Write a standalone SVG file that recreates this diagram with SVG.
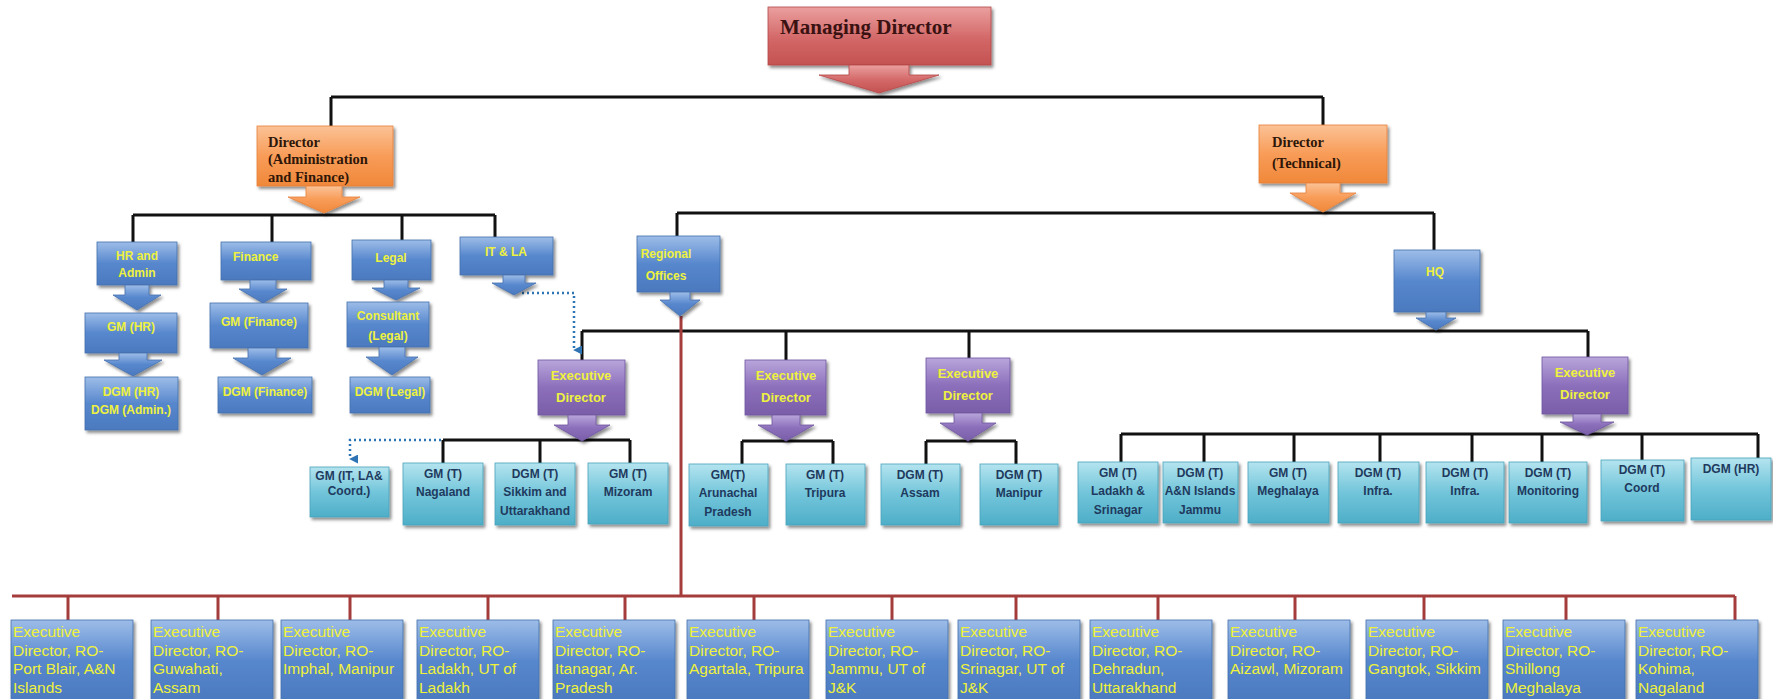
<svg xmlns="http://www.w3.org/2000/svg" width="1773" height="699" viewBox="0 0 1773 699">
<defs>
<linearGradient id="gBlue" x1="0" y1="0" x2="0" y2="1"><stop offset="0" stop-color="#9dbde8"/><stop offset="0.5" stop-color="#5787cd"/><stop offset="1" stop-color="#4b79bf"/></linearGradient>
<linearGradient id="gCyan" x1="0" y1="0" x2="0" y2="1"><stop offset="0" stop-color="#b4e4ef"/><stop offset="0.5" stop-color="#72c5da"/><stop offset="1" stop-color="#4eaec8"/></linearGradient>
<linearGradient id="gPurple" x1="0" y1="0" x2="0" y2="1"><stop offset="0" stop-color="#b9a6db"/><stop offset="0.5" stop-color="#8c6fbb"/><stop offset="1" stop-color="#7a5ea8"/></linearGradient>
<linearGradient id="gOrange" x1="0" y1="0" x2="0" y2="1"><stop offset="0" stop-color="#fbc296"/><stop offset="0.5" stop-color="#f89c58"/><stop offset="1" stop-color="#f0883a"/></linearGradient>
<linearGradient id="gRed" x1="0" y1="0" x2="0" y2="1"><stop offset="0" stop-color="#eb9f9f"/><stop offset="0.55" stop-color="#d36767"/><stop offset="1" stop-color="#c45252"/></linearGradient>
<filter id="sh" x="-10%" y="-10%" width="125%" height="130%"><feDropShadow dx="2" dy="2.5" stdDeviation="1.5" flood-color="#000" flood-opacity="0.45"/></filter>
<marker id="dArr" viewBox="0 0 10 10" refX="5" refY="9" markerWidth="9" markerHeight="9" markerUnits="userSpaceOnUse" orient="auto-start-reverse"><path d="M0,0 L10,0 L5,10 Z" fill="#2e74b5"/></marker>
</defs>
<style>
.blue{fill:url(#gBlue);stroke:#4470ad;stroke-width:0.8;filter:url(#sh)}
.cyan{fill:url(#gCyan);stroke:#4aa3bb;stroke-width:0.8;filter:url(#sh)}
.purple{fill:url(#gPurple);stroke:#6e55a0;stroke-width:0.8;filter:url(#sh)}
.orange{fill:url(#gOrange);stroke:#e6803a;stroke-width:0.8;filter:url(#sh)}
.red{fill:url(#gRed);stroke:#b44848;stroke-width:0.8;filter:url(#sh)}
.ln{stroke:#111;stroke-width:3;fill:none}
.rl{stroke:#a43c3c;stroke-width:3;fill:none}
.dot{stroke:#2e75b6;stroke-width:2.5;fill:none;stroke-dasharray:2 3}
.ty{font-family:"Liberation Sans",Arial,sans-serif;font-size:12px;font-weight:bold;fill:#eef23e;text-anchor:middle}
.te{font-family:"Liberation Sans",Arial,sans-serif;font-size:13px;font-weight:bold;fill:#eef23e;text-anchor:middle}
.tn{font-family:"Liberation Sans",Arial,sans-serif;font-size:12px;font-weight:bold;fill:#1f3a5e;text-anchor:middle}
.tb{font-family:"Liberation Sans",Arial,sans-serif;font-size:15.5px;fill:#f0f23a}
.to{font-family:"Liberation Serif","Times New Roman",serif;font-size:14.5px;font-weight:bold;fill:#2e1608}
.tm{font-family:"Liberation Serif","Times New Roman",serif;font-size:21px;font-weight:bold;fill:#3a1212}
</style>

<g id="connectors">
<path class="ln" d="M331,97 H1323 M331,97 V126 M1323,97 V125"/>
<path class="ln" d="M133,215 H495 M133,215 V242 M272,215 V242 M402,215 V240 M495,215 V237"/>
<path class="ln" d="M677,213 H1434 M677,213 V236 M1434,213 V250"/>
<path class="ln" d="M582,331 H1588 M582,331 V360 M786,331 V360 M969,331 V358 M1588,331 V357"/>
<path class="ln" d="M443,440 H630 M443,440 V463 M540,440 V463 M630,440 V463"/>
<path class="ln" d="M742,441 H833 M742,441 V464 M833,441 V464"/>
<path class="ln" d="M926,441 H1016 M926,441 V464 M1016,441 V464"/>
<path class="ln" d="M1121,434 H1758 M1121,434 V462 M1204,434 V462 M1294,434 V462 M1380,434 V462 M1472,434 V462 M1542,434 V462 M1642,434 V460 M1758,434 V458"/>
<path class="rl" d="M681,316 V596 M12,596 H1735 M68,596 V620 M218,596 V620 M350,596 V620 M488,596 V620 M625,596 V620 M754,596 V620 M892,596 V620 M1016,596 V620 M1158,596 V620 M1295,596 V620 M1424,596 V620 M1566,596 V620 M1735,596 V620"/>
<path class="dot" d="M522,293 H574 V350" marker-end="url(#dArr)"/>
<path class="dot" d="M441,440 H350 V459" marker-end="url(#dArr)"/>
</g>

<g id="md">
<rect class="red" x="768" y="7" width="223" height="58"/>
<path class="red" d="M849,65 H909 V75 H939 L879,93 L819,75 H849 Z"/>
<text class="tm" x="780" y="34">Managing Director</text>
</g>

<g id="dir-admin">
<rect class="orange" x="257" y="126" width="136" height="60"/>
<path class="orange" d="M306,186 H342 V197 H360 L324,213 L288,197 H306 Z"/>
<text class="to" x="268" y="147">Director</text>
<text class="to" x="268" y="164">(Administration</text>
<text class="to" x="268" y="182">and Finance)</text>
</g>

<g id="dir-tech">
<rect class="orange" x="1259" y="125" width="128" height="58"/>
<path class="orange" d="M1306,183 H1340 V193 H1356 L1323,212 L1290,193 H1306 Z"/>
<text class="to" x="1272" y="147">Director</text>
<text class="to" x="1272" y="168">(Technical)</text>
</g>

<g id="hr-admin">
<rect class="blue" x="97" y="242" width="80" height="43"/>
<path class="blue" d="M125,285 H149 V295 H161 L137,310 L113,295 H125 Z"/>
<text class="ty" x="137" y="260">HR and</text>
<text class="ty" x="137" y="277">Admin</text>
</g>
<g id="gm-hr">
<rect class="blue" x="85" y="313" width="92" height="40"/>
<path class="blue" d="M119,353 H147 V360 H162 L133,376 L104,360 H119 Z"/>
<text class="ty" x="131" y="331">GM (HR)</text>
</g>
<g id="dgm-hr-admin">
<rect class="blue" x="85" y="377" width="93" height="53"/>
<text class="ty" x="131" y="396">DGM (HR)</text>
<text class="ty" x="131" y="414">DGM (Admin.)</text>
</g>

<g id="finance">
<rect class="blue" x="221" y="242" width="90" height="38"/>
<path class="blue" d="M250,280 H276 V289 H287 L263,303 L239,289 H250 Z"/>
<text class="ty" x="233" y="261" style="text-anchor:start">Finance</text>
</g>
<g id="gm-finance">
<rect class="blue" x="210" y="303" width="98" height="45"/>
<path class="blue" d="M248,348 H276 V358 H291 L262,375 L233,358 H248 Z"/>
<text class="ty" x="259" y="326">GM (Finance)</text>
</g>
<g id="dgm-finance">
<rect class="blue" x="218" y="377" width="94" height="36"/>
<text class="ty" x="265" y="396">DGM (Finance)</text>
</g>

<g id="legal">
<rect class="blue" x="352" y="240" width="79" height="40"/>
<path class="blue" d="M384,280 H408 V288 H420 L396,300 L372,288 H384 Z"/>
<text class="ty" x="391" y="262">Legal</text>
</g>
<g id="consultant">
<rect class="blue" x="347" y="302" width="82" height="45"/>
<path class="blue" d="M379,347 H405 V357 H418 L392,375 L366,357 H379 Z"/>
<text class="ty" x="388" y="320">Consultant</text>
<text class="ty" x="388" y="340">(Legal)</text>
</g>
<g id="dgm-legal">
<rect class="blue" x="350" y="377" width="80" height="36"/>
<text class="ty" x="390" y="396">DGM (Legal)</text>
</g>

<g id="it-la">
<rect class="blue" x="460" y="237" width="93" height="38"/>
<path class="blue" d="M503,275 H525 V283 H536 L514,295 L492,283 H503 Z"/>
<text class="ty" x="506" y="256">IT &amp; LA</text>
</g>

<g id="regional-offices">
<rect class="blue" x="637" y="236" width="83" height="56"/>
<path class="blue" d="M670,292 H690 V300 H700 L680,316 L660,300 H670 Z"/>
<text class="ty" x="666" y="258">Regional</text>
<text class="ty" x="666" y="280">Offices</text>
</g>

<g id="hq">
<rect class="blue" x="1394" y="250" width="86" height="62"/>
<path class="blue" d="M1426,312 H1446 V318 H1456 L1436,330 L1416,318 H1426 Z"/>
<text class="ty" x="1435" y="276">HQ</text>
</g>

<g id="ed1">
<rect class="purple" x="538" y="360" width="87" height="55"/>
<path class="purple" d="M568,415 H596 V425 H610 L582,441 L554,425 H568 Z"/>
<text class="te" x="581" y="380">Executive</text>
<text class="te" x="581" y="402">Director</text>
</g>
<g id="ed2">
<rect class="purple" x="745" y="360" width="81" height="55"/>
<path class="purple" d="M772,415 H800 V425 H814 L786,441 L758,425 H772 Z"/>
<text class="te" x="786" y="380">Executive</text>
<text class="te" x="786" y="402">Director</text>
</g>
<g id="ed3">
<rect class="purple" x="926" y="358" width="84" height="55"/>
<path class="purple" d="M954,413 H982 V423 H996 L968,441 L940,423 H954 Z"/>
<text class="te" x="968" y="378">Executive</text>
<text class="te" x="968" y="400">Director</text>
</g>
<g id="ed4">
<rect class="purple" x="1542" y="357" width="86" height="57"/>
<path class="purple" d="M1573,414 H1601 V422 H1614 L1587,435 L1560,422 H1573 Z"/>
<text class="te" x="1585" y="377">Executive</text>
<text class="te" x="1585" y="399">Director</text>
</g>

<g id="gm-it-la-coord"><rect class="cyan" x="310" y="467" width="79" height="50"/><text class="tn" x="349" y="480">GM (IT, LA&amp;</text><text class="tn" x="349" y="495">Coord.)</text></g>
<g id="gm-nagaland"><rect class="cyan" x="403" y="463" width="80" height="62"/><text class="tn" x="443" y="478">GM (T)</text><text class="tn" x="443" y="496">Nagaland</text></g>
<g id="dgm-sikkim"><rect class="cyan" x="495" y="463" width="80" height="62"/><text class="tn" x="535" y="478">DGM (T)</text><text class="tn" x="535" y="496">Sikkim and</text><text class="tn" x="535" y="515">Uttarakhand</text></g>
<g id="gm-mizoram"><rect class="cyan" x="588" y="463" width="80" height="61"/><text class="tn" x="628" y="478">GM (T)</text><text class="tn" x="628" y="496">Mizoram</text></g>
<g id="gm-arunachal"><rect class="cyan" x="689" y="464" width="79" height="62"/><text class="tn" x="728" y="479">GM(T)</text><text class="tn" x="728" y="497">Arunachal</text><text class="tn" x="728" y="516">Pradesh</text></g>
<g id="gm-tripura"><rect class="cyan" x="786" y="464" width="79" height="61"/><text class="tn" x="825" y="479">GM (T)</text><text class="tn" x="825" y="497">Tripura</text></g>
<g id="dgm-assam"><rect class="cyan" x="881" y="464" width="79" height="61"/><text class="tn" x="920" y="479">DGM (T)</text><text class="tn" x="920" y="497">Assam</text></g>
<g id="dgm-manipur"><rect class="cyan" x="980" y="464" width="78" height="61"/><text class="tn" x="1019" y="479">DGM (T)</text><text class="tn" x="1019" y="497">Manipur</text></g>
<g id="gm-ladakh"><rect class="cyan" x="1078" y="462" width="80" height="61"/><text class="tn" x="1118" y="477">GM (T)</text><text class="tn" x="1118" y="495">Ladakh &amp;</text><text class="tn" x="1118" y="514">Srinagar</text></g>
<g id="dgm-an-jammu"><rect class="cyan" x="1163" y="462" width="75" height="61"/><text class="tn" x="1200" y="477">DGM (T)</text><text class="tn" x="1200" y="495">A&amp;N Islands</text><text class="tn" x="1200" y="514">Jammu</text></g>
<g id="gm-meghalaya"><rect class="cyan" x="1248" y="462" width="81" height="61"/><text class="tn" x="1288" y="477">GM (T)</text><text class="tn" x="1288" y="495">Meghalaya</text></g>
<g id="dgm-infra1"><rect class="cyan" x="1338" y="462" width="81" height="61"/><text class="tn" x="1378" y="477">DGM (T)</text><text class="tn" x="1378" y="495">Infra.</text></g>
<g id="dgm-infra2"><rect class="cyan" x="1426" y="462" width="78" height="61"/><text class="tn" x="1465" y="477">DGM (T)</text><text class="tn" x="1465" y="495">Infra.</text></g>
<g id="dgm-monitoring"><rect class="cyan" x="1509" y="462" width="78" height="61"/><text class="tn" x="1548" y="477">DGM (T)</text><text class="tn" x="1548" y="495">Monitoring</text></g>
<g id="dgm-coord"><rect class="cyan" x="1601" y="460" width="83" height="61"/><text class="tn" x="1642" y="474">DGM (T)</text><text class="tn" x="1642" y="492">Coord</text></g>
<g id="dgm-hr"><rect class="cyan" x="1691" y="458" width="80" height="62"/><text class="tn" x="1731" y="473">DGM (HR)</text></g>

<g id="ro-port-blair"><rect class="blue" x="11" y="620" width="122" height="82"/><text class="tb" x="13" y="637">Executive</text><text class="tb" x="13" y="655.5">Director, RO-</text><text class="tb" x="13" y="674">Port Blair, A&amp;N</text><text class="tb" x="13" y="692.5">Islands</text></g>
<g id="ro-guwahati"><rect class="blue" x="151" y="620" width="122" height="82"/><text class="tb" x="153" y="637">Executive</text><text class="tb" x="153" y="655.5">Director, RO-</text><text class="tb" x="153" y="674">Guwahati,</text><text class="tb" x="153" y="692.5">Assam</text></g>
<g id="ro-imphal"><rect class="blue" x="281" y="620" width="122" height="82"/><text class="tb" x="283" y="637">Executive</text><text class="tb" x="283" y="655.5">Director, RO-</text><text class="tb" x="283" y="674">Imphal, Manipur</text></g>
<g id="ro-ladakh"><rect class="blue" x="417" y="620" width="122" height="82"/><text class="tb" x="419" y="637">Executive</text><text class="tb" x="419" y="655.5">Director, RO-</text><text class="tb" x="419" y="674">Ladakh, UT of</text><text class="tb" x="419" y="692.5">Ladakh</text></g>
<g id="ro-itanagar"><rect class="blue" x="553" y="620" width="122" height="82"/><text class="tb" x="555" y="637">Executive</text><text class="tb" x="555" y="655.5">Director, RO-</text><text class="tb" x="555" y="674">Itanagar, Ar.</text><text class="tb" x="555" y="692.5">Pradesh</text></g>
<g id="ro-agartala"><rect class="blue" x="687" y="620" width="122" height="82"/><text class="tb" x="689" y="637">Executive</text><text class="tb" x="689" y="655.5">Director, RO-</text><text class="tb" x="689" y="674">Agartala, Tripura</text></g>
<g id="ro-jammu"><rect class="blue" x="826" y="620" width="122" height="82"/><text class="tb" x="828" y="637">Executive</text><text class="tb" x="828" y="655.5">Director, RO-</text><text class="tb" x="828" y="674">Jammu, UT of</text><text class="tb" x="828" y="692.5">J&amp;K</text></g>
<g id="ro-srinagar"><rect class="blue" x="958" y="620" width="122" height="82"/><text class="tb" x="960" y="637">Executive</text><text class="tb" x="960" y="655.5">Director, RO-</text><text class="tb" x="960" y="674">Srinagar, UT of</text><text class="tb" x="960" y="692.5">J&amp;K</text></g>
<g id="ro-dehradun"><rect class="blue" x="1090" y="620" width="122" height="82"/><text class="tb" x="1092" y="637">Executive</text><text class="tb" x="1092" y="655.5">Director, RO-</text><text class="tb" x="1092" y="674">Dehradun,</text><text class="tb" x="1092" y="692.5">Uttarakhand</text></g>
<g id="ro-aizawl"><rect class="blue" x="1228" y="620" width="122" height="82"/><text class="tb" x="1230" y="637">Executive</text><text class="tb" x="1230" y="655.5">Director, RO-</text><text class="tb" x="1230" y="674">Aizawl, Mizoram</text></g>
<g id="ro-gangtok"><rect class="blue" x="1366" y="620" width="122" height="82"/><text class="tb" x="1368" y="637">Executive</text><text class="tb" x="1368" y="655.5">Director, RO-</text><text class="tb" x="1368" y="674">Gangtok, Sikkim</text></g>
<g id="ro-shillong"><rect class="blue" x="1503" y="620" width="122" height="82"/><text class="tb" x="1505" y="637">Executive</text><text class="tb" x="1505" y="655.5">Director, RO-</text><text class="tb" x="1505" y="674">Shillong</text><text class="tb" x="1505" y="692.5">Meghalaya</text></g>
<g id="ro-kohima"><rect class="blue" x="1636" y="620" width="122" height="82"/><text class="tb" x="1638" y="637">Executive</text><text class="tb" x="1638" y="655.5">Director, RO-</text><text class="tb" x="1638" y="674">Kohima,</text><text class="tb" x="1638" y="692.5">Nagaland</text></g>
</svg>
